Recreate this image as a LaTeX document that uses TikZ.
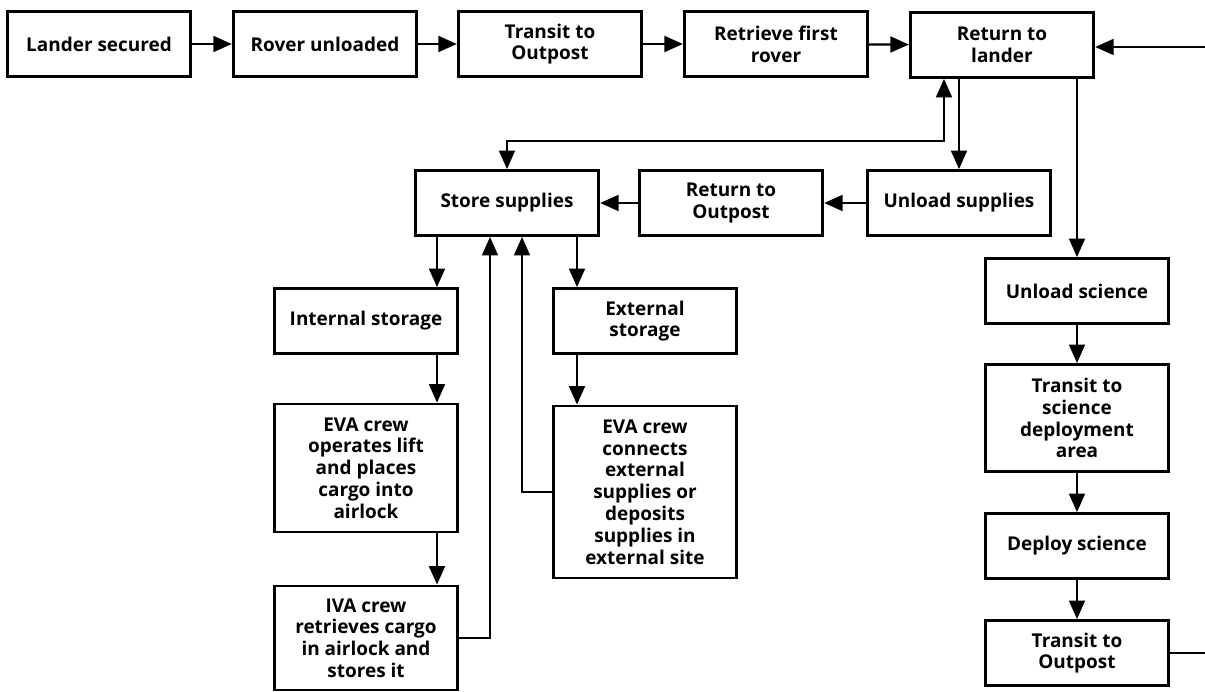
\documentclass[tikz,border=0pt]{standalone}
\usepackage{fontspec}
\setmainfont{Open Sans}
\usetikzlibrary{arrows.meta}

\begin{document}
\begin{tikzpicture}[x=0.02cm,y=-0.02cm,>={Triangle[length=10.5pt,width=9pt]},
  box/.style={draw,line width=1.6pt,minimum width=3.67cm,minimum height=1.3cm,
    align=center,inner sep=2pt,font=\bfseries\fontsize{10.8}{12.4}\selectfont},
  link/.style={line width=1.3pt}]
\useasboundingbox (0,0) rectangle (1205,692);

\node[box] (ls) at (99,44) {Lander secured};
\node[box] (ru) at (325,44) {Rover unloaded};
\node[box] (tto) at (550,44) {Transit to\\Outpost};
\node[box] (rfr) at (776,44) {Retrieve first\\rover};
\node[box] (rtl) at (1002,45) {Return to\\lander};

\node[box] (ss) at (507,203) {Store supplies};
\node[box] (rto) at (731,203) {Return to\\Outpost};
\node[box] (us) at (959,203) {Unload supplies};

\node[box] (ins) at (366,321) {Internal storage};
\node[box] (exs) at (645,321) {External\\storage};
\node[box,minimum height=2.56cm] (eva1) at (366,468) {EVA crew\\operates lift\\and places\\cargo into\\airlock};
\node[box,minimum height=3.44cm] (eva2) at (645,492) {EVA crew\\connects\\external\\supplies or\\deposits\\supplies in\\external site};
\node[box,minimum height=2.08cm] (iva) at (366,638) {IVA crew\\retrieves cargo\\in airlock and\\stores it};

\node[box] (usc) at (1077,291) {Unload science};
\node[box,minimum height=2.14cm] (tsd) at (1077,418) {Transit to\\science\\deployment\\area};
\node[box] (ds) at (1077,546) {Deploy science};
\node[box] (tto2) at (1077,653) {Transit to\\Outpost};

\coordinate (a1) at (437,0);
\coordinate (a2) at (490,0);
\coordinate (a3) at (522,0);
\coordinate (a4) at (577,0);
\coordinate (jn) at (944,141);
\coordinate (rin) at (1205,47);
\coordinate (rout) at (1205,653);

\draw[link,->] (ls) -- (ru);
\draw[link,->] (ru) -- (tto);
\draw[link,->] (tto) -- (rfr);
\draw[link,->] (rfr) -- (rtl);
\draw[link,->] (rin) -- (rtl.east |- rin);

\draw[link,<->] (ss.north) |- (jn) -- (jn |- rtl.south);
\draw[link,->] (us.north |- rtl.south) -- (us.north);
\draw[link,->] (usc.north |- rtl.south) -- (usc.north);
\draw[link,->] (us) -- (rto);
\draw[link,->] (rto) -- (ss);

\draw[link,->] (ss.south -| a1) -- (ins.north -| a1);
\draw[link,->] (ins.south -| a1) -- (eva1.north -| a1);
\draw[link,->] (eva1.south -| a1) -- (iva.north -| a1);
\draw[link,->] (iva.east) -| (a2 |- ss.south);
\draw[link,->] (eva2.west) -| (a3 |- ss.south);
\draw[link,->] (ss.south -| a4) -- (exs.north -| a4);
\draw[link,->] (exs.south -| a4) -- (eva2.north -| a4);

\draw[link,->] (usc) -- (tsd);
\draw[link,->] (tsd) -- (ds);
\draw[link,->] (ds) -- (tto2);
\draw[link] (tto2.east) -- (rout);
\end{tikzpicture}
\end{document}
